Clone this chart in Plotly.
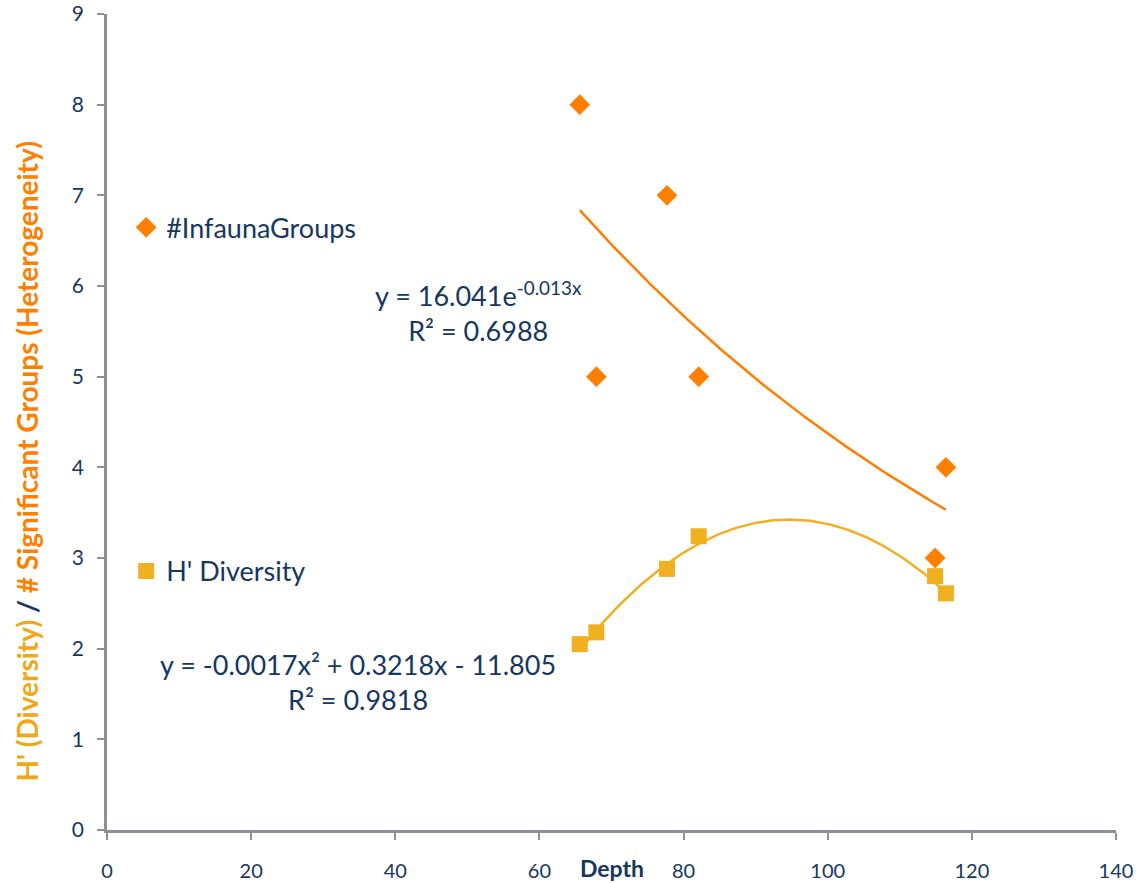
import numpy as np
import plotly.graph_objects as go

# Station depths and observations
depth = [65.6, 77.7, 67.9, 82.1, 116.4, 114.9]
infauna_groups = [8, 7, 5, 5, 4, 3]

depth_h = [65.6, 67.9, 77.7, 82.1, 114.9, 116.4]
h_diversity = [2.05, 2.18, 2.88, 3.24, 2.80, 2.61]

# Trendline coefficients
exp_a, exp_b = 16.041, -0.013            # y = a * e^(b x)
poly_c = [-0.0017, 0.3218, -11.805]      # y = c2 x^2 + c1 x + c0

x_ticks = [0, 20, 40, 60, 80, 100, 120, 140]
y_ticks = [0, 1, 2, 3, 4, 5, 6, 7, 8, 9]

NAVY = "#17375E"
ORANGE = "#FF7F00"
GOLD = "#F0B020"
AXIS = "#8C9099"
FONT = "Lato"

xe = np.linspace(min(depth), max(depth), 200)
ye = exp_a * np.exp(exp_b * xe)
xp = np.linspace(min(depth_h), max(depth_h), 200)
yp = np.polyval(poly_c, xp)

fig = go.Figure()

fig.add_trace(go.Scatter(
    x=xe, y=ye, mode="lines", line=dict(color=ORANGE, width=2.5),
    showlegend=False, hoverinfo="skip"))
fig.add_trace(go.Scatter(
    x=xp, y=yp, mode="lines", line=dict(color=GOLD, width=2.5),
    showlegend=False, hoverinfo="skip"))

fig.add_trace(go.Scatter(
    x=depth, y=infauna_groups, mode="markers", name="#InfaunaGroups",
    marker=dict(symbol="diamond", size=16, color=ORANGE), legend="legend"))
fig.add_trace(go.Scatter(
    x=depth_h, y=h_diversity, mode="markers", name="H' Diversity",
    marker=dict(symbol="square", size=16, color=GOLD), legend="legend2"))

label_font = dict(family=FONT, size=27, color=NAVY)
fig.add_annotation(
    x=0.368, y=0.635, xref="paper", yref="paper", showarrow=False,
    xanchor="center", yanchor="middle",
    text="y = 16.041e<sup>-0.013x</sup><br>R² = 0.6988", align="center",
    font=label_font)
fig.add_annotation(
    x=0.249, y=0.181, xref="paper", yref="paper", showarrow=False,
    xanchor="center", yanchor="middle",
    text="y = -0.0017x² + 0.3218x - 11.805<br>R² = 0.9818", align="center",
    font=label_font)
fig.add_annotation(
    x=0.5, y=-0.047, xref="paper", yref="paper", showarrow=False,
    xanchor="center", yanchor="middle", text="<b>Depth</b>",
    font=dict(family=FONT, size=23, color=NAVY))
# Two-coloured y axis title
fig.add_annotation(
    x=-0.079, y=0.452, xref="paper", yref="paper", showarrow=False,
    xanchor="center", yanchor="middle", textangle=-90,
    text=("<b><span style='color:#F0A818'>H' (Diversity)</span> "
          "<span style='color:#17375E'>/</span> "
          "<span style='color:#FF7F00'># Significant Groups (Heterogeneity)</span></b>"),
    font=dict(family=FONT, size=28))

legend_style = dict(
    x=0.019, xanchor="left", yanchor="middle", bgcolor="rgba(0,0,0,0)",
    font=dict(family=FONT, size=27, color=NAVY), itemwidth=30)

fig.update_layout(
    width=1140, height=883,
    margin=dict(l=107, r=24, t=14, b=53),
    plot_bgcolor="white", paper_bgcolor="white",
    font=dict(family=FONT, color=NAVY),
    legend=dict(y=0.738, **legend_style),
    legend2=dict(y=0.317, **legend_style),
    xaxis=dict(
        range=[0, 140], tickvals=x_ticks, showgrid=False, zeroline=False,
        automargin=False,
        showline=True, linecolor=AXIS, linewidth=2.5,
        ticks="outside", ticklen=7, tickwidth=2, tickcolor=AXIS,
        ticklabelstandoff=14,
        tickfont=dict(family=FONT, size=20, color=NAVY)),
    yaxis=dict(
        range=[0, 9], tickvals=y_ticks, showgrid=False, zeroline=False,
        automargin=False,
        showline=True, linecolor=AXIS, linewidth=2.5,
        ticks="outside", ticklen=7, tickwidth=2, tickcolor=AXIS,
        ticklabelstandoff=9,
        tickfont=dict(family=FONT, size=21, color=NAVY)),
)

fig.write_html("out.html")
